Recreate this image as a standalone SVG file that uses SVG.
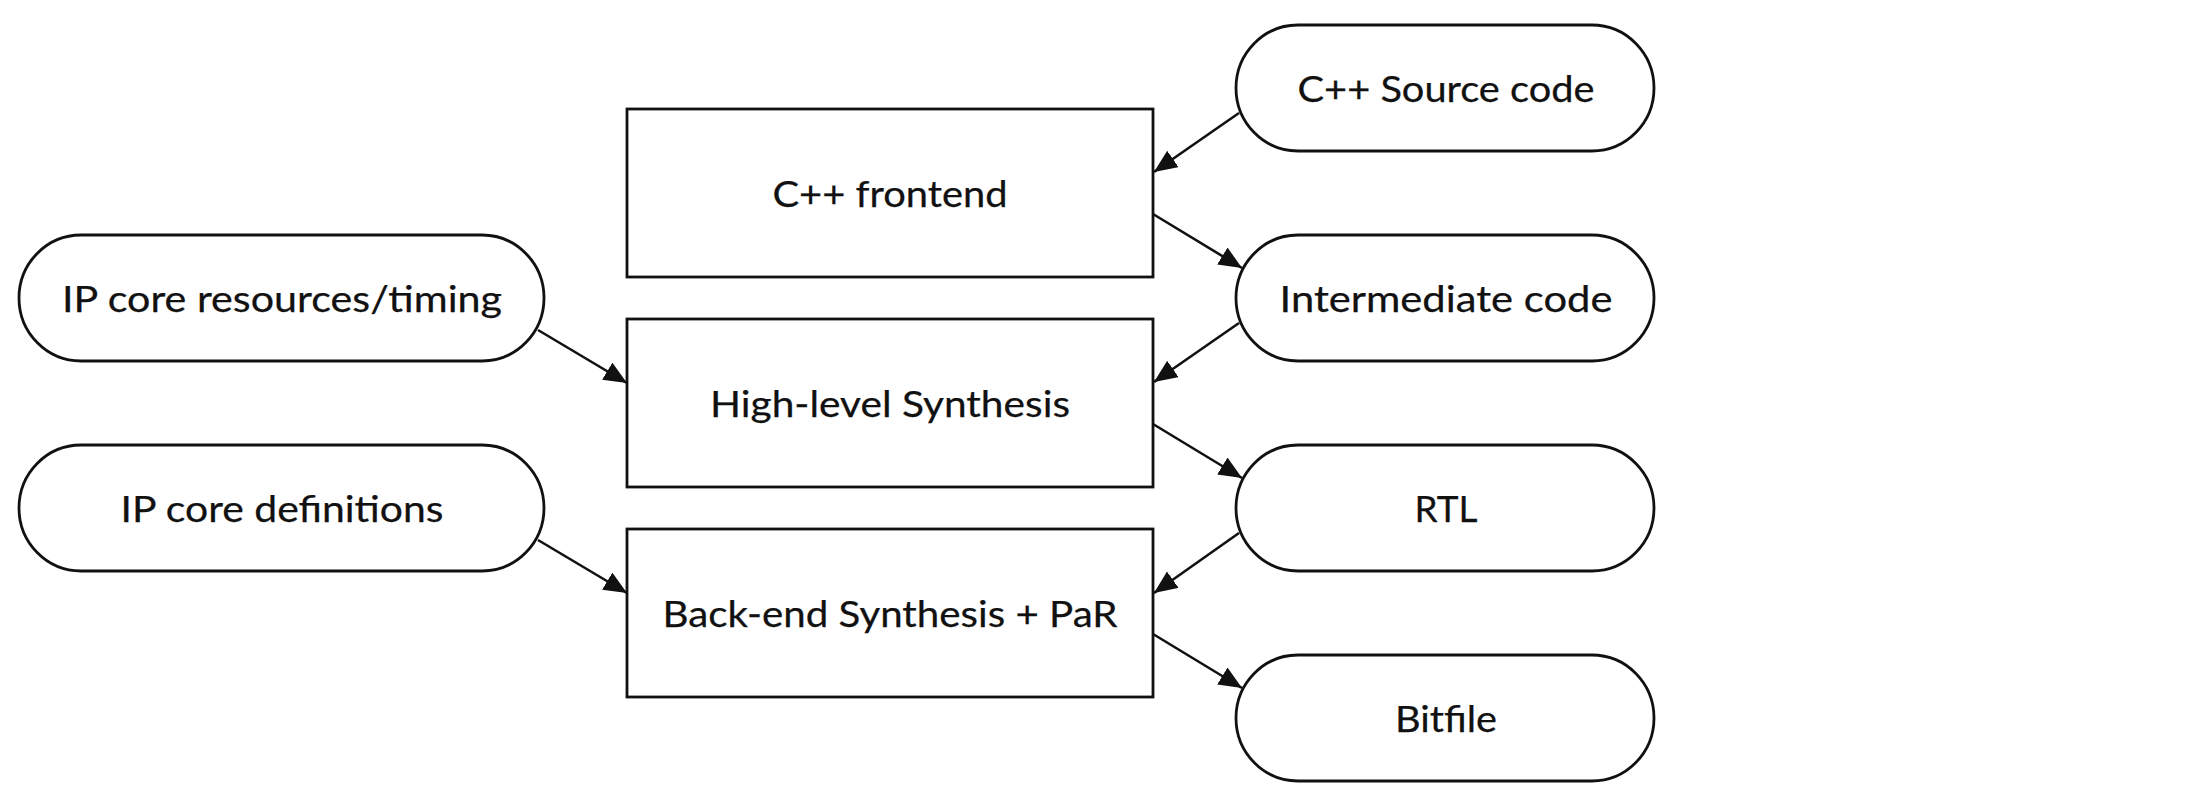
<svg xmlns="http://www.w3.org/2000/svg" width="2206" height="798" viewBox="0 0 2206 798">
  <style>
    .box { fill: #ffffff; stroke: #111111; stroke-width: 2.8; }
    .pill { fill: #ffffff; stroke: #111111; stroke-width: 2.8; }
    .label { font-family: Lato, "Liberation Sans", sans-serif; font-size: 37px; fill: #111111; stroke: #111111; stroke-width: 0.25; text-anchor: middle; }
    .edge { stroke: #111111; stroke-width: 2.6; fill: none; marker-end: url(#arrow); }
  </style>
  <defs>
    <marker id="arrow" markerUnits="userSpaceOnUse" markerWidth="24" markerHeight="22" refX="23" refY="10" orient="auto">
      <path d="M0,0 L23,10 L0,20 z" fill="#111111"/>
    </marker>
  </defs>
  <rect width="2206" height="798" fill="#ffffff"/>

  <!-- processing stages -->
  <g id="cpp-frontend">
    <rect class="box" x="627" y="109" width="526" height="168"/>
    <text class="label" x="890" y="207" textLength="235" lengthAdjust="spacingAndGlyphs">C++ frontend</text>
  </g>
  <g id="high-level-synthesis">
    <rect class="box" x="627" y="319" width="526" height="168"/>
    <text class="label" x="890" y="417" textLength="360" lengthAdjust="spacingAndGlyphs">High-level Synthesis</text>
  </g>
  <g id="backend-synthesis">
    <rect class="box" x="627" y="529" width="526" height="168"/>
    <text class="label" x="890" y="627" textLength="455" lengthAdjust="spacingAndGlyphs">Back-end Synthesis + PaR</text>
  </g>

  <!-- artefacts -->
  <g id="cpp-source">
    <rect class="pill" x="1236" y="25" width="418" height="126" rx="62" ry="63"/>
    <text class="label" x="1446" y="102" textLength="297" lengthAdjust="spacingAndGlyphs">C++ Source code</text>
  </g>
  <g id="intermediate-code">
    <rect class="pill" x="1236" y="235" width="418" height="126" rx="62" ry="63"/>
    <text class="label" x="1446" y="312" textLength="333" lengthAdjust="spacingAndGlyphs">Intermediate code</text>
  </g>
  <g id="rtl">
    <rect class="pill" x="1236" y="445" width="418" height="126" rx="62" ry="63"/>
    <text class="label" x="1446" y="522" textLength="63" lengthAdjust="spacingAndGlyphs">RTL</text>
  </g>
  <g id="bitfile">
    <rect class="pill" x="1236" y="655" width="418" height="126" rx="62" ry="63"/>
    <text class="label" x="1446" y="732" textLength="102" lengthAdjust="spacingAndGlyphs">Bitfile</text>
  </g>
  <g id="ip-core-resources">
    <rect class="pill" x="19" y="235" width="525" height="126" rx="62" ry="63"/>
    <text class="label" x="282" y="312" textLength="440" lengthAdjust="spacingAndGlyphs">IP core resources/timing</text>
  </g>
  <g id="ip-core-definitions">
    <rect class="pill" x="19" y="445" width="525" height="126" rx="62" ry="63"/>
    <text class="label" x="282" y="522" textLength="323" lengthAdjust="spacingAndGlyphs">IP core definitions</text>
  </g>

  <!-- data flow -->
  <g id="connectors">
    <line class="edge" x1="1239" y1="113" x2="1154" y2="172"/>
    <line class="edge" x1="1153" y1="214" x2="1242" y2="268"/>
    <line class="edge" x1="1239" y1="323" x2="1154" y2="382"/>
    <line class="edge" x1="538" y1="330" x2="627" y2="383"/>
    <line class="edge" x1="1153" y1="424" x2="1242" y2="478"/>
    <line class="edge" x1="1239" y1="533" x2="1154" y2="593"/>
    <line class="edge" x1="538" y1="540" x2="627" y2="593"/>
    <line class="edge" x1="1153" y1="634" x2="1242" y2="688"/>
  </g>
</svg>
